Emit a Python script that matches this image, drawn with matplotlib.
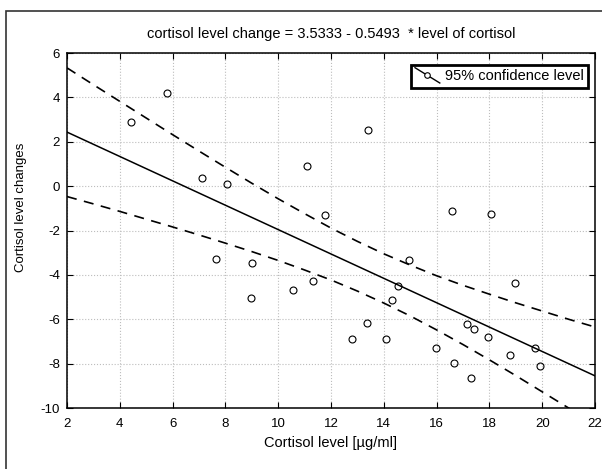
"""
Cortisol level vs. change: scatter, regression line and 95% confidence bands
"""

import matplotlib

matplotlib.use("Agg")
import matplotlib.pyplot as plt
from matplotlib.legend_handler import HandlerBase
from matplotlib.lines import Line2D
from matplotlib.patches import Rectangle

plt.rcParams["font.family"] = ["Liberation Sans", "DejaVu Sans"]
plt.rcParams["axes.unicode_minus"] = False

# ── data ───────────────────────────────────────────────────
level = [4.44, 5.80, 7.10, 8.05, 7.66, 9.02, 8.96, 11.10, 11.77, 10.55,
         11.33, 13.41, 12.80, 13.36, 14.10, 14.32, 14.54, 14.94, 15.97,
         16.58, 16.65, 17.14, 17.43, 17.32, 17.93, 18.05, 18.78, 18.96,
         19.74, 19.92]
change = [2.91, 4.18, 0.36, 0.08, -3.28, -3.47, -5.02, 0.90, -1.31, -4.68,
          -4.27, 2.53, -6.90, -6.15, -6.90, -5.14, -4.48, -3.32, -7.30,
          -1.12, -7.96, -6.22, -6.43, -8.64, -6.82, -1.25, -7.63, -4.35,
          -7.30, -8.10]

fit_x = [2, 22]
fit_y = [2.435, -8.551]

band_x = list(range(2, 23))
band_upper = [5.33, 4.57, 3.82, 3.07, 2.32, 1.58, 0.85, 0.13, -0.57, -1.24,
              -1.89, -2.49, -3.05, -3.56, -4.04, -4.47, -4.87, -5.26, -5.63,
              -6.00, -6.35]
band_lower = [-0.47, -0.80, -1.14, -1.49, -1.84, -2.20, -2.57, -2.95, -3.35,
              -3.78, -4.23, -4.73, -5.27, -5.85, -6.48, -7.14, -7.83, -8.54,
              -9.27, -10.00, -10.75]

x_ticks = list(range(2, 23, 2))
y_ticks = list(range(-10, 7, 2))


class SlantHandler(HandlerBase):
    """legend key: slanted line with an open circle in the middle"""

    def create_artists(self, legend, orig_handle, xdescent, ydescent,
                       width, height, fontsize, trans):
        x0, x1 = -xdescent, -xdescent + width
        y0, y1 = -ydescent + height * 1.25, -ydescent - height * 0.25
        line = Line2D([x0, x1], [y0, y1], color="black", lw=1.0)
        mark = Line2D([(x0 + x1) / 2], [(y0 + y1) / 2], marker="o", ms=4,
                      mfc="white", mec="black", mew=0.8, ls="none")
        line.set_transform(trans)
        mark.set_transform(trans)
        return [line, mark]


fig = plt.figure(figsize=(6.02, 4.69), dpi=100)
ax = fig.add_axes([67 / 602, 1 - 408 / 469, 528 / 602, 355 / 469])

ax.plot(level, change, "o", mfc="none", mec="black", ms=5, mew=0.8)
ax.plot(fit_x, fit_y, color="black", lw=1.1)
ax.plot(band_x, band_upper, color="black", lw=1.2, ls=(0, (6, 4.5)))
ax.plot(band_x, band_lower, color="black", lw=1.2, ls=(0, (6, 4.5)))

ax.set_xlim(2, 22)
ax.set_ylim(-10, 6)
ax.set_xticks(x_ticks)
ax.set_yticks(y_ticks)
ax.grid(True, color="#bdbdbd", linestyle=":", linewidth=0.8)
ax.tick_params(direction="in", length=4, width=0.8, top=True, right=True,
               labelsize=9.5, colors="black")
ax.tick_params(axis="x", pad=7)
ax.tick_params(axis="y", pad=5)
for sp in ax.spines.values():
    sp.set_linewidth(1.1)
    sp.set_color("black")

ax.set_xlabel("Cortisol level [µg/ml]", fontsize=10.5)
ax.set_ylabel("Cortisol level changes", fontsize=9.5)
ax.xaxis.set_label_coords(0.5, -0.079)
ax.yaxis.set_label_coords(-0.075, 0.566)

proxy = Line2D([], [], color="black", marker="o")
leg = ax.legend([proxy], ["95% confidence level"], handler_map={Line2D: SlantHandler()},
                loc="upper right", bbox_to_anchor=(0.987, 0.966), borderaxespad=0,
                fontsize=10.5, handlelength=1.7, handletextpad=0.35, borderpad=0.3,
                fancybox=False, framealpha=1)
leg.get_frame().set_edgecolor("black")
leg.get_frame().set_linewidth(2.0)

fig.text(331 / 602, 1 - 34 / 469,
         "cortisol level change = 3.5333 - 0.5493  * level of cortisol",
         ha="center", va="center", fontsize=10.5)

# outer frame of the exported graph window
fig.patches.append(Rectangle((6 / 602, -0.1), 1.0, 1.1 - 11 / 469,
                             transform=fig.transFigure, fill=False,
                             edgecolor="#333333", lw=1.2))

fig.savefig("out.png", dpi=100)
plt.close(fig)
